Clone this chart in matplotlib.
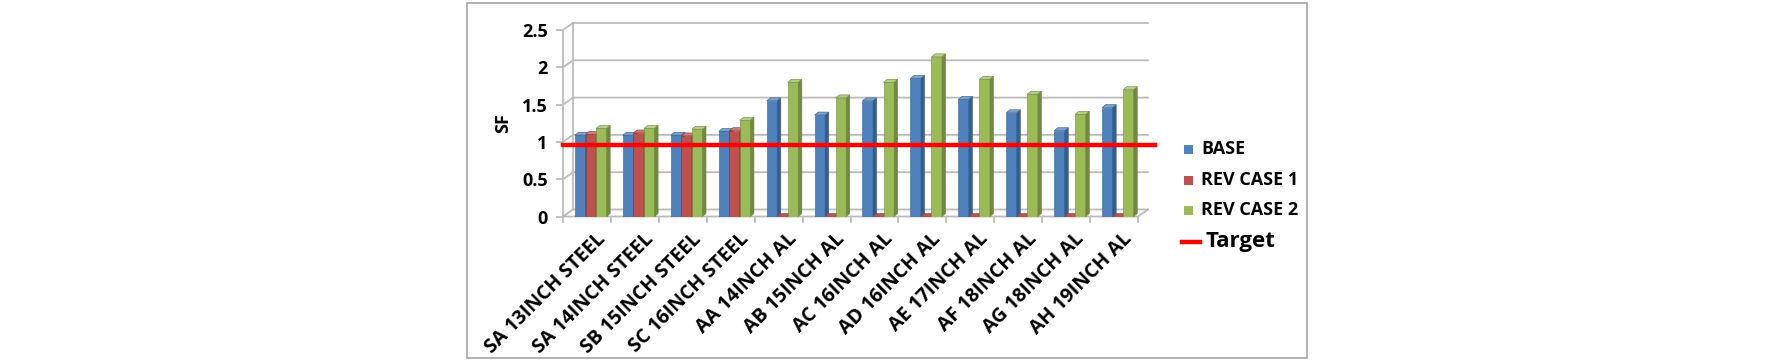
import matplotlib
matplotlib.use("Agg")
import matplotlib.pyplot as plt
from matplotlib.patches import Polygon, Rectangle
from matplotlib.lines import Line2D
import numpy as np

categories = ["SA 13INCH STEEL", "SA 14INCH STEEL", "SB 15INCH STEEL", "SC 16INCH STEEL",
              "AA 14INCH AL", "AB 15INCH AL", "AC 16INCH AL", "AD 16INCH AL",
              "AE 17INCH AL", "AF 18INCH AL", "AG 18INCH AL", "AH 19INCH AL"]
base = [1.09, 1.09, 1.09, 1.14, 1.55, 1.36, 1.55, 1.85, 1.57, 1.39, 1.15, 1.46]
rev_case_1 = [1.10, 1.12, 1.08, 1.15, 0, 0, 0, 0, 0, 0, 0, 0]
rev_case_2 = [1.18, 1.18, 1.17, 1.29, 1.80, 1.59, 1.80, 2.14, 1.84, 1.64, 1.37, 1.70]
target = 0.96
series_names = ["BASE", "REV CASE 1", "REV CASE 2"]
yticks = [0, 0.5, 1, 1.5, 2, 2.5]
ytick_labels = ["0", "0.5", "1", "1.5", "2", "2.5"]

W, H = 1772, 363
fig = plt.figure(figsize=(W / 100, H / 100), dpi=100)
FONT = "Open Sans"

def fx(px):
    return px / W

def fy(py):
    return 1 - py / H

# outer border
fig.add_artist(Rectangle((fx(467), fy(358)), fx(1307) - fx(467), fy(3) - fy(358),
                         transform=fig.transFigure, fill=False, edgecolor="#A6A6A6", lw=1.2))

ax_left, ax_right = 563, 1138
ax_bot, ax_top = 216.5, 30
ax = fig.add_axes([fx(ax_left), fy(ax_bot), fx(ax_right) - fx(ax_left), fy(ax_top) - fy(ax_bot)])
n = len(categories)
ax.set_xlim(-0.5, n - 0.5)
ax.set_ylim(0, 2.5)
for s in ax.spines.values():
    s.set_visible(False)

# 3D depth offsets (data units)
ddx, ddy = 0.208, 0.094
gcol = "#BCBCBC"
xl, xr = -0.5, n - 0.5
for v in yticks:
    ax.plot([xl, xl + ddx, xr + ddx], [v, v + ddy, v + ddy], color=gcol, lw=1.3, clip_on=False, zorder=1)
ax.plot([xl, xl], [0, 2.5], color=gcol, lw=1.3, clip_on=False, zorder=1)
ax.plot([xl + ddx, xl + ddx], [ddy, 2.5 + ddy], color=gcol, lw=1.3, clip_on=False, zorder=1)
ax.plot([xl, xr, xr + ddx], [0, 0, ddy], color=gcol, lw=1.3, clip_on=False, zorder=1)
# tick marks
for b in np.arange(-0.5, n, 1.0):
    ax.plot([b, b], [0, -0.07], color=gcol, lw=1.3, clip_on=False, zorder=1)
for v in yticks:
    ax.plot([xl, xl - 0.12], [v, v], color=gcol, lw=1.3, clip_on=False, zorder=1)

ax.set_xticks(range(n))
ax.set_xticklabels([])
ax.set_yticks(yticks)
ax.set_yticklabels(ytick_labels, fontsize=13, fontweight="bold", family=FONT)
ax.tick_params(axis="y", length=0, pad=11)
ax.tick_params(axis="x", length=0)

for i, c in enumerate(categories):
    ax.text(i + 0.17, -0.17, c, rotation=45, ha="right", va="top", rotation_mode="anchor",
            fontsize=14, fontweight="bold", family=FONT, transform=ax.transData)

fig.text(fx(503), fy(123), "SF", rotation=90, fontsize=13, fontweight="bold", family=FONT,
         ha="center", va="center")

colors = [("#4F81BD", "#385D8A", "#7BA0CD"),
          ("#C0504D", "#8C3836", "#D07A78"),
          ("#9BBB59", "#71893F", "#B5CD85")]
w = 0.22
sdx, sdy = 0.075, 0.04
shift = 0.08
for k, vals in enumerate([base, rev_case_1, rev_case_2]):
    front, side, top = colors[k]
    xs = np.arange(n) + shift + (k - 1) * w
    ax.bar(xs, vals, width=w, color=front, edgecolor=side, linewidth=0.4, zorder=3)
    for x, h in zip(xs, vals):
        x0, x1 = x - w / 2, x + w / 2
        ax.add_patch(Polygon([(x1, 0), (x1 + sdx, sdy), (x1 + sdx, h + sdy), (x1, h)],
                             closed=True, facecolor=side, edgecolor=side, lw=0.4, zorder=3))
        ax.add_patch(Polygon([(x0, h), (x0 + sdx, h + sdy), (x1 + sdx, h + sdy), (x1, h)],
                             closed=True, facecolor=top if h > 0 else front, edgecolor=side, lw=0.4, zorder=3))

ax.plot([xl, 11.86], [target, target], color="#FF0000", lw=3.2, clip_on=False, zorder=5)

# legend
rows = [149, 180, 210]
for k, (name, y) in enumerate(zip(series_names, rows)):
    fig.add_artist(Rectangle((fx(1184), fy(y + 5)), fx(9), 9 / H, transform=fig.transFigure,
                             facecolor=colors[k][0], edgecolor="none"))
    fig.text(fx(1201), fy(y), name, fontsize=13, fontweight="bold", family=FONT, va="center", ha="left")
fig.add_artist(Line2D([fx(1182), fx(1200)], [fy(242), fy(242)], transform=fig.transFigure,
                      color="#FF0000", lw=3.2))
fig.text(fx(1205), fy(241), "Target", fontsize=16, fontweight="bold", family=FONT, va="center", ha="left")

fig.savefig("out.png", dpi=100, facecolor="white")
